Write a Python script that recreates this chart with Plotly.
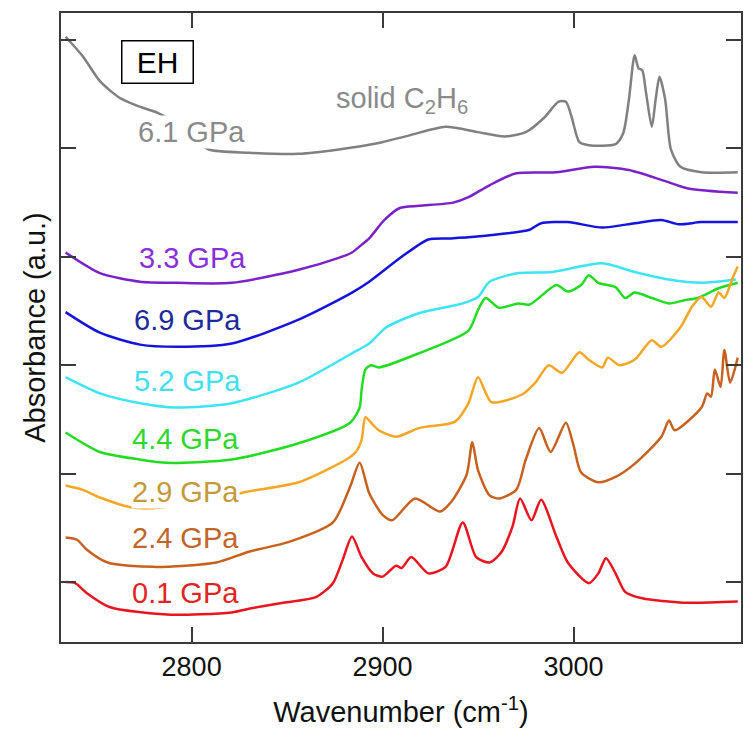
import plotly.graph_objects as go

# IR absorbance spectra of EH at several pressures (offset vertically)
wn_61 = [2734, 2743, 2752, 2762, 2772, 2782, 2790, 2800, 2809, 2830, 2856, 2877, 2898, 2914, 2933,
         2950, 2964, 2975, 2985, 2992, 2996, 2999, 3003, 3008, 3022, 3026, 3029, 3032, 3034, 3036,
         3038, 3041, 3043, 3045, 3048, 3051, 3056, 3067, 3086]
ab_61 = [5.03, 4.85, 4.62, 4.47, 4.39, 4.33, 4.25, 4.10, 3.99, 3.96, 3.95, 3.99, 4.05, 4.12, 4.20,
         4.15, 4.11, 4.15, 4.29, 4.43, 4.43, 4.29, 4.06, 4.03, 4.04, 4.14, 4.45, 4.86, 4.74, 4.72,
         4.51, 4.20, 4.45, 4.66, 4.45, 3.99, 3.83, 3.78, 3.78]

wn_33 = [2734, 2752, 2773, 2792, 2821, 2856, 2877, 2884, 2889, 2893, 2901, 2909, 2919, 2937, 2945,
         2956, 2970, 2991, 3011, 3029, 3046, 3060, 3086]
ab_33 = [3.04, 2.85, 2.77, 2.76, 2.76, 2.88, 2.99, 3.04, 3.11, 3.17, 3.34, 3.45, 3.47, 3.50, 3.55,
         3.66, 3.77, 3.78, 3.83, 3.80, 3.71, 3.63, 3.59]

wn_69 = [2734, 2752, 2773, 2792, 2821, 2856, 2884, 2893, 2910, 2924, 2935, 2945, 2962, 2977, 2983,
         2997, 3015, 3032, 3046, 3055, 3067, 3086]
ab_69 = [2.49, 2.30, 2.19, 2.17, 2.20, 2.42, 2.67, 2.77, 3.00, 3.16, 3.17, 3.18, 3.21, 3.25, 3.31,
         3.32, 3.27, 3.31, 3.34, 3.30, 3.32, 3.32]

wn_52 = [2734, 2752, 2773, 2792, 2821, 2856, 2884, 2893, 2902, 2919, 2942, 2950, 2956, 2971, 2989,
         3015, 3032, 3050, 3067, 3085]
ab_52 = [1.89, 1.74, 1.65, 1.61, 1.65, 1.84, 2.11, 2.20, 2.35, 2.48, 2.57, 2.63, 2.77, 2.85, 2.86,
         2.94, 2.86, 2.79, 2.76, 2.79]

wn_44 = [2734, 2752, 2773, 2787, 2821, 2856, 2883, 2888, 2889, 2891, 2894, 2898, 2919, 2945, 2950,
         2954, 2961, 2971, 2977, 2991, 2997, 3004, 3008, 3013, 3022, 3027, 3032, 3041, 3050, 3058,
         3065, 3076, 3086]
ab_44 = [1.38, 1.20, 1.13, 1.10, 1.13, 1.28, 1.47, 1.61, 1.77, 1.96, 2.00, 1.98, 2.11, 2.32, 2.51,
         2.62, 2.53, 2.57, 2.56, 2.74, 2.68, 2.74, 2.83, 2.76, 2.72, 2.62, 2.67, 2.62, 2.57, 2.60,
         2.62, 2.71, 2.76]

wn_29 = [2734, 2743, 2752, 2768, 2778, 2804, 2828, 2856, 2881, 2886, 2889, 2891, 2895, 2898, 2907,
         2919, 2938, 2945, 2950, 2957, 2973, 2980, 2987, 2994, 3003, 3008, 3015, 3018, 3024, 3032,
         3041, 3046, 3056, 3062, 3067, 3072, 3076, 3079, 3083, 3086]
ab_29 = [0.89, 0.85, 0.78, 0.69, 0.68, 0.73, 0.83, 0.92, 1.13, 1.20, 1.31, 1.52, 1.45, 1.40, 1.34,
         1.42, 1.48, 1.65, 1.89, 1.66, 1.73, 1.84, 2.00, 1.93, 2.12, 2.05, 1.98, 2.07, 2.00, 2.05,
         2.23, 2.17, 2.35, 2.54, 2.63, 2.54, 2.67, 2.62, 2.79, 2.91]

wn_24 = [2734, 2740, 2745, 2756, 2780, 2813, 2830, 2851, 2874, 2883, 2888, 2893, 2900, 2905, 2917,
         2930, 2936, 2944, 2947, 2950, 2956, 2961, 2970, 2975, 2982, 2988, 2996, 3000, 3004, 3013,
         3022, 3032, 3046, 3050, 3053, 3067, 3070, 3072, 3074, 3077, 3079, 3082, 3086]
ab_24 = [0.41, 0.39, 0.30, 0.18, 0.14, 0.18, 0.28, 0.37, 0.55, 0.88, 1.10, 0.82, 0.62, 0.57, 0.77,
         0.65, 0.74, 0.99, 1.29, 1.03, 0.80, 0.77, 0.85, 1.13, 1.42, 1.20, 1.47, 1.26, 1.01, 0.92,
         0.97, 1.09, 1.34, 1.49, 1.40, 1.61, 1.74, 1.71, 1.96, 1.80, 2.14, 1.84, 2.07]

wn_01 = [2734, 2739, 2745, 2757, 2787, 2821, 2832, 2848, 2865, 2874, 2879, 2884, 2889, 2895, 2900,
         2907, 2910, 2915, 2924, 2933, 2942, 2949, 2956, 2962, 2968, 2972, 2978, 2983, 2991, 2997,
         3008, 3013, 3017, 3022, 3027, 3036, 3058, 3086]
ab_01 = [0.00, -0.01, -0.10, -0.23, -0.30, -0.28, -0.24, -0.19, -0.14, -0.01, 0.20, 0.42, 0.23, 0.08, 0.05,
         0.15, 0.13, 0.23, 0.08, 0.14, 0.55, 0.23, 0.18, 0.27, 0.51, 0.77, 0.57, 0.76, 0.42, 0.18,
         -0.01, 0.08, 0.22, 0.08, -0.09, -0.15, -0.19, -0.18]

pressure_labels = ["6.1 GPa", "3.3 GPa", "6.9 GPa", "5.2 GPa", "4.4 GPa", "2.9 GPa", "2.4 GPa", "0.1 GPa"]
label_wn = [2800, 2800.5, 2798, 2798, 2797, 2797, 2797, 2797]
label_ab = [4.15, 2.99, 2.42, 1.85, 1.32, 0.83, 0.41, -0.10]

x_ticks = [2800, 2900, 3000]
y_ticks = [0, 1, 2, 3, 4, 5]

series = [(wn_61, ab_61), (wn_33, ab_33), (wn_69, ab_69), (wn_52, ab_52),
          (wn_44, ab_44), (wn_29, ab_29), (wn_24, ab_24), (wn_01, ab_01)]
line_colors = ["#808080", "#7a22c8", "#1414dc", "#3ee4f2", "#22dc22", "#f5a626", "#c8601e", "#e8141e"]
text_colors = ["#8a8a8a", "#8a30d8", "#1c2a9c", "#40e0ef", "#2cd82c", "#c49a3a", "#c0662a", "#e02424"]
label_bg = [True, False, False, False, False, True, False, False]

FONT = "Liberation Sans, Arial, sans-serif"

fig = go.Figure()
for (wn, ab), col in zip(series, line_colors):
    fig.add_trace(go.Scatter(x=wn, y=ab, mode="lines",
                             line=dict(color=col, width=2.5, shape="spline", smoothing=0.7),
                             showlegend=False, hoverinfo="skip"))

for txt, xw, ya, tc, bg in zip(pressure_labels, label_wn, label_ab, text_colors, label_bg):
    fig.add_annotation(x=xw, y=ya, xref="x", yref="y", text=txt, showarrow=False,
                       font=dict(family=FONT, size=29, color=tc),
                       bgcolor="white" if bg else "rgba(0,0,0,0)", borderpad=0)

fig.add_annotation(x=2874.5, y=4.45, xref="x", yref="y", xanchor="left",
                   text="solid C<sub>2</sub>H<sub>6</sub>", showarrow=False,
                   font=dict(family=FONT, size=29, color="#8a8a8a"))

fig.add_annotation(x=2782.2, y=4.80, xref="x", yref="y", text="EH", showarrow=False,
                   font=dict(family=FONT, size=30, color="black"),
                   bordercolor="black", borderwidth=1.5, borderpad=0,
                   width=70, height=41, bgcolor="white")

axis_style = dict(showline=True, linecolor="#3a3a3a", linewidth=2, mirror="ticks",
                  ticks="inside", ticklen=15, tickwidth=2, tickcolor="#3a3a3a",
                  showgrid=False, zeroline=False)

fig.update_xaxes(range=[2731.6, 3087.7], tickvals=x_ticks,
                 tickfont=dict(family=FONT, size=27, color="#111"),
                 title=dict(text="Wavenumber (cm<sup>-1</sup>)",
                            font=dict(family=FONT, size=29, color="#111"), standoff=20),
                 **axis_style)
fig.update_yaxes(range=[-0.553, 5.249], tickvals=y_ticks, showticklabels=False,
                 title=dict(text="Absorbance (a.u.)",
                            font=dict(family=FONT, size=29, color="#111"), standoff=5),
                 **axis_style)

fig.update_layout(width=748, height=736, margin=dict(l=61, r=5, t=13, b=94),
                  plot_bgcolor="white", paper_bgcolor="white")

fig.write_html("out.html")
